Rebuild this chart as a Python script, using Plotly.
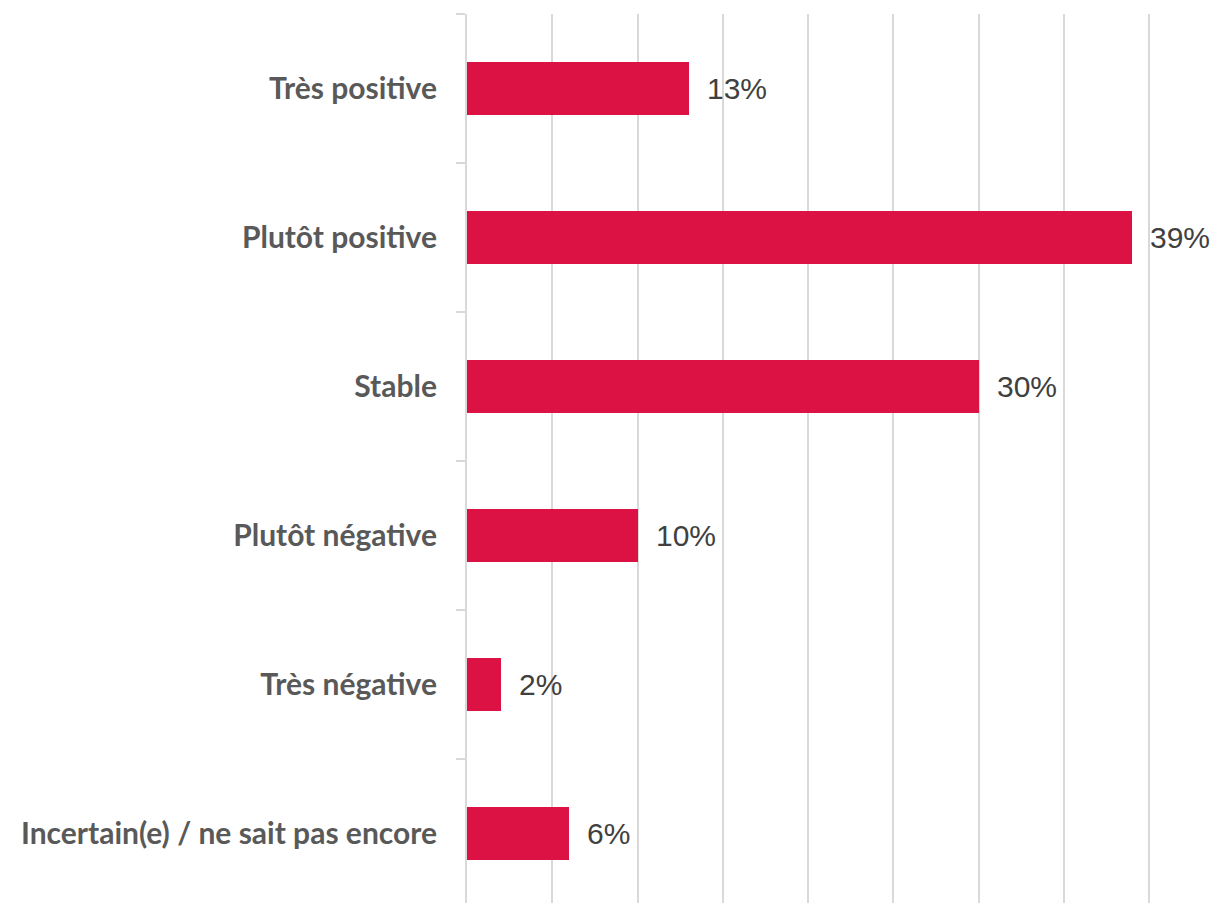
import plotly.graph_objects as go

categories = ["Très positive", "Plutôt positive", "Stable", "Plutôt négative",
              "Très négative", "Incertain(e) / ne sait pas encore"]
values = [13, 39, 30, 10, 2, 6]
value_labels = ["13%", "39%", "30%", "10%", "2%", "6%"]

fig = go.Figure()
fig.add_trace(go.Bar(
    x=values, y=categories, orientation="h",
    marker=dict(color="#DC1245", line=dict(width=0)),
    width=0.36, hoverinfo="skip",
))
for c, v, t in zip(categories, values, value_labels):
    fig.add_annotation(x=v, y=c, text=t, showarrow=False, xanchor="left",
                       xshift=16, font=dict(family="Liberation Sans, Arial", size=30, color="#404040"))

fig.update_layout(
    width=1230, height=903,
    margin=dict(l=459, r=87, t=6, b=0),
    plot_bgcolor="white", paper_bgcolor="white",
    showlegend=False,
    bargap=0,
)
fig.update_xaxes(
    range=[0, 40.1], dtick=5, tick0=0, showticklabels=False,
    showgrid=True, gridcolor="#D9D9D9", gridwidth=2,
    zeroline=False, showline=False, ticks="",
)
fig.update_yaxes(
    type="category", categoryorder="array", categoryarray=categories,
    range=[5.52, -0.5],
    showgrid=False, zeroline=False,
    showline=True, linecolor="#D9D9D9", linewidth=2,
    ticks="outside", ticklen=9, tickcolor="#D9D9D9", tickwidth=2,
    tickson="boundaries", ticklabelstandoff=22,
    tickfont=dict(family="Lato", size=30, color="#595959", weight="bold"),
)
fig.write_html("out.html")
